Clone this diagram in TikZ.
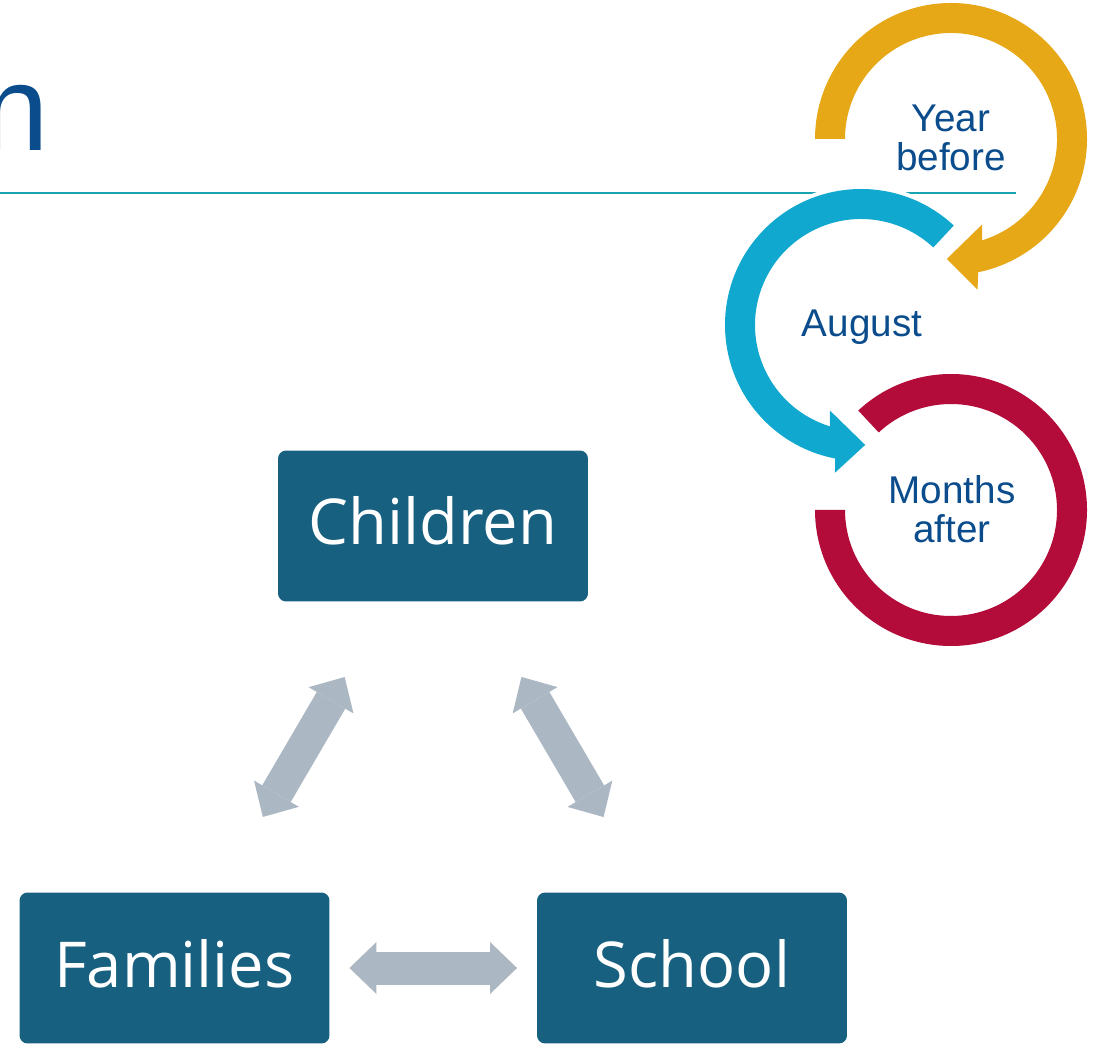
\documentclass[tikz,border=0pt]{standalone}
\usepackage{xcolor}
\usepackage{fontspec}
\usetikzlibrary{arrows.meta}
\newfontfamily\boxfont{Open Sans}
\newfontfamily\lblfont{Liberation Sans}

\definecolor{boxblue}{RGB}{23,96,128}
\definecolor{arrowgray}{RGB}{171,183,195}
\definecolor{textblue}{RGB}{11,76,140}
\definecolor{ruleteal}{RGB}{24,163,176}
\definecolor{ringyellow}{RGB}{230,168,23}
\definecolor{ringblue}{RGB}{16,168,207}
\definecolor{ringred}{RGB}{179,11,58}

\begin{document}
\begin{tikzpicture}[x=0.02cm,y=0.02cm,
    box/.style={fill=boxblue, rounded corners=0.16cm, minimum width=6.2cm, minimum height=3.02cm,
        text=white, text height=0.9cm, text depth=0.14cm, font=\boxfont\fontsize{36}{40}\selectfont},
    lbl/.style={text=textblue, align=center, inner sep=0pt, font=\lblfont\fontsize{22}{22}\selectfont},
    link/.style={arrowgray, line width=0.66cm, shorten <=3.5cm, shorten >=3.5cm,
        {Triangle[length=0.54cm,width=1.04cm,line width=0pt]}-{Triangle[length=0.54cm,width=1.04cm,line width=0pt]}},
    ring/.style={fill=#1, preaction={draw=white, line width=0.16cm}}]

    \useasboundingbox (0,0) rectangle (1101,1045);
    \clip (0,0) rectangle (1101,1045);

    % title, cut off at the left edge
    \node[anchor=base west, inner sep=0pt, text=textblue, font=\lblfont\fontsize{69}{69}\selectfont] (title) at (-19,894) {n};
    \draw[ruleteal, line width=0.05cm] (0,852) -- (1016,852);

    % months after
    \begin{scope}[shift={(951,535)}]
        \path[ring=ringred] (133:136) arc[start angle=133, end angle=-180, radius=136]
            -- (180:106) arc[start angle=-180, end angle=133, radius=106] -- cycle;
    \end{scope}

    % august
    \begin{scope}[shift={(861,720)}]
        \path[ring=ringblue] (47:136) arc[start angle=47, end angle=259, radius=136]
            -- (260:150) -- (272:120) -- (250:91) -- (253:106)   % head
            arc[start angle=253, end angle=47, radius=106] -- cycle;
    \end{scope}

    % year before
    \begin{scope}[shift={(951,906)}]
        \path[ring=ringyellow] (180:136) arc[start angle=180, end angle=-78.5, radius=136]
            -- (-80:153) -- (-92:120) -- (-70:91) -- (-73:106)   % head
            arc[start angle=-73, end angle=180, radius=106] -- cycle;
    \end{scope}

    \node[lbl] (yearlbl) at (951,907) {Year\\before};
    \node[lbl] (auglbl) at (862,718) {August};
    \node[lbl] (monthslbl) at (952,536) {Months\\after};

    \node[box] (children) at (433,519) {Children};
    \node[box] (families) at (174.5,77) {Families};
    \node[box] (school) at (692,77) {School};

    \draw[link] (families.center) -- (children.center);
    \draw[link] (children.center) -- (school.center);
    \draw[link] (families.center) -- (school.center);

\end{tikzpicture}
\end{document}
